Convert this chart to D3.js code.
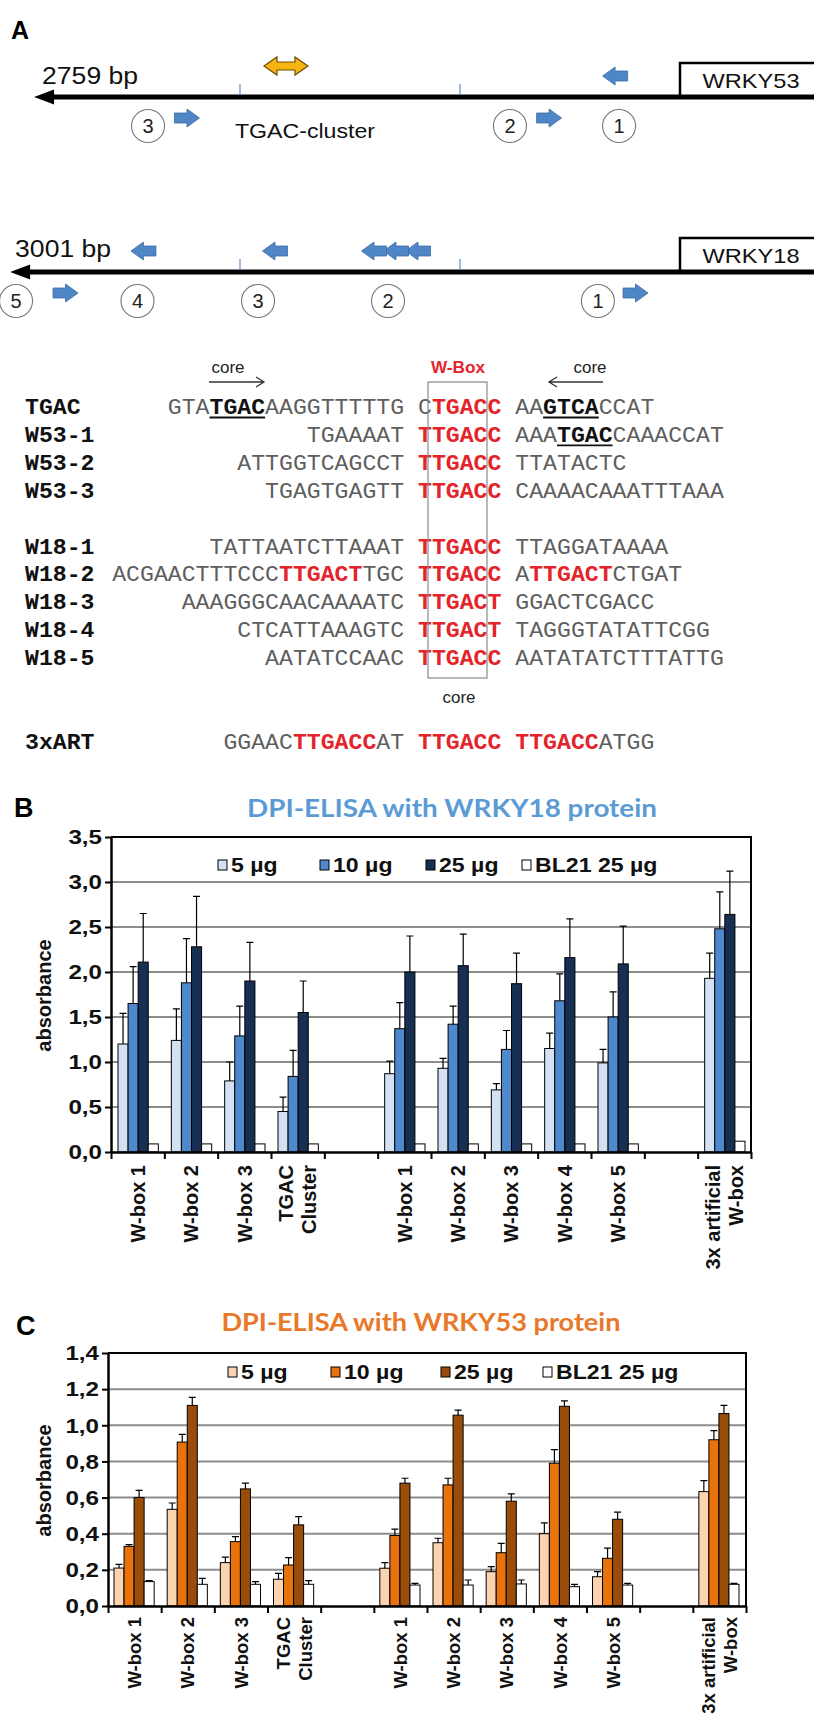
<!DOCTYPE html>
<html><head><meta charset="utf-8">
<script src="https://cdn.jsdelivr.net/npm/d3@7"></script>
<style>body{margin:0;background:#fff}svg{display:block}</style>
</head><body>
<svg id="fig" width="814" height="1716"></svg>
<script>
// ================= DATA =================
// Panel A – promoter schematics (positions in bp upstream of start)
const w53Length = "2759 bp", w18Length = "3001 bp";
const w53LineEnd = 2936, w18LineEnd = 3045;
const scaleTicksBp = [1000, 2000];
const w53ArrowsAbove = [{bp:295, dir:"L"}];
const w53ArrowsBelow = [{bp:2241, dir:"R"}, {bp:595, dir:"R"}];
const w53Circles = [{bp:2418, n:"3"}, {bp:773, n:"2"}, {bp:277, n:"1"}];
const w53TgacCluster = 1791;
const w18ArrowsAbove = [{bp:2439, dir:"L"}, {bp:1841, dir:"L"}, {bp:1191, dir:"L"}, {bp:1291, dir:"L"}, {bp:1391, dir:"L"}];
const w18ArrowsBelow = [{bp:2793, dir:"R"}, {bp:202, dir:"R"}];
const w18Circles = [{bp:3018, n:"5"}, {bp:2466, n:"4"}, {bp:1918, n:"3"}, {bp:1327, n:"2"}, {bp:373, n:"1"}];

// Sequences: {..} = red W-box, [..] = bold underlined core
const seqLabels = ["TGAC","W53-1","W53-2","W53-3","W18-1","W18-2","W18-3","W18-4","W18-5","3xART"];
const seqSlots  = [0,1,2,3,5,6,7,8,9,12];
const seqLeft  = ["GTA[TGAC]AAGGTTTTTG","TGAAAAT","ATTGGTCAGCCT","TGAGTGAGTT","TATTAATCTTAAAT","ACGAACTTTCCC{TTGACT}TGC","AAAGGGCAACAAAATC","CTCATTAAAGTC","AATATCCAAC","GGAAC{TTGACC}AT"];
const seqCore  = ["C{TGACC}","{TTGACC}","{TTGACC}","{TTGACC}","{TTGACC}","{TTGACC}","{TTGACT}","{TTGACT}","{TTGACC}","{TTGACC}"];
const seqRight = ["AA[GTCA]CCAT","AAA[TGAC]CAAACCAT","TTATACTC","CAAAACAAATTTAAA","TTAGGATAAAA","A{TTGACT}CTGAT","GGACTCGACC","TAGGGTATATTCGG","AATATATCTTTATTG","{TTGACC}ATGG"];

// Panels B and C – DPI-ELISA
const categories = [["W-box 1"],["W-box 2"],["W-box 3"],["TGAC","Cluster"],null,["W-box 1"],["W-box 2"],["W-box 3"],["W-box 4"],["W-box 5"],null,["3x artificial","W-box"]];
const seriesNames = ["5 µg","10 µg","25 µg","BL21 25 µg"];
const yTicksB = [0,0.5,1.0,1.5,2.0,2.5,3.0,3.5];
const yTicksC = [0,0.2,0.4,0.6,0.8,1.0,1.2,1.4];

const b5    = [1.20,1.24,0.79,0.45,null,0.87,0.93,0.69,1.15,0.99,null,1.93];
const b5Err = [0.34,0.35,0.21,0.16,null,0.14,0.11,0.07,0.17,0.15,null,0.28];
const b10    = [1.65,1.88,1.29,0.84,null,1.37,1.42,1.14,1.68,1.50,null,2.48];
const b10Err = [0.41,0.49,0.33,0.29,null,0.29,0.20,0.21,0.30,0.28,null,0.41];
const b25    = [2.11,2.28,1.90,1.55,null,2.00,2.07,1.87,2.16,2.09,null,2.64];
const b25Err = [0.54,0.56,0.43,0.35,null,0.40,0.35,0.34,0.43,0.42,null,0.48];
const bBL    = [0.09,0.09,0.09,0.09,null,0.09,0.09,0.09,0.09,0.09,null,0.12];
const bBLErr = [null,null,null,null,null,null,null,null,null,null,null,null];

const c5    = [0.21,0.535,0.24,0.148,null,0.209,0.35,0.19,0.40,0.162,null,0.633];
const c5Err = [0.02,0.035,0.03,0.032,null,0.031,0.025,0.028,0.06,0.028,null,0.061];
const c10    = [0.33,0.907,0.356,0.227,null,0.39,0.67,0.295,0.79,0.264,null,0.92];
const c10Err = [0.01,0.043,0.028,0.041,null,0.035,0.037,0.052,0.075,0.056,null,0.05];
const c25    = [0.60,1.11,0.648,0.449,null,0.68,1.056,0.58,1.105,0.48,null,1.065];
const c25Err = [0.04,0.045,0.032,0.046,null,0.027,0.028,0.04,0.03,0.04,null,0.045];
const cBL    = [0.135,0.12,0.12,0.12,null,0.116,0.116,0.122,0.107,0.116,null,0.12];
const cBLErr = [0.005,0.033,0.015,0.02,null,0.009,0.028,0.022,0.013,0.009,null,0.005];

// ================= DRAWING =================
const svg = d3.select("#fig");
const SANS = "'Liberation Sans', Arial, sans-serif";
const MONO = "'Liberation Mono', 'Courier New', monospace";

function stretch(sel, f){ sel.each(function(){ const w=this.getComputedTextLength(); d3.select(this).attr("textLength", w*f).attr("lengthAdjust","spacingAndGlyphs"); }); return sel; }
function fit(sel, w){ return sel.attr("textLength", w).attr("lengthAdjust","spacingAndGlyphs"); }

// ---------- Panel A ----------
svg.append("text").attr("x",11).attr("y",39).text("A").attr("font-family",SANS).attr("font-weight","bold").attr("font-size",25);

const bpX = d3.scaleLinear().domain([0,1000]).range([680,460]);

function blockArrow(g, cx, cy, dir, w, h, bh, fill, stroke){
  const s = dir==="L" ? -1 : 1, hw=w/2, hl=w/2;
  const tip = cx + s*hw, base = cx + s*(hw-hl), tail = cx - s*hw;
  const p = `M${tip},${cy}L${base},${cy-h/2}L${base},${cy-bh/2}L${tail},${cy-bh/2}L${tail},${cy+bh/2}L${base},${cy+bh/2}L${base},${cy+h/2}Z`;
  g.append("path").attr("d",p).attr("fill",fill).attr("stroke",stroke).attr("stroke-width",0.8);
}

function promoter(y, lenLabel, lineEnd, gene, above, below, circles, labelDy, labelDx){
  const g = svg.append("g");
  const tipX = bpX(lineEnd);
  g.append("line").attr("x1",tipX+16).attr("x2",814).attr("y1",y).attr("y2",y).attr("stroke","#000").attr("stroke-width",5);
  g.append("path").attr("d",`M${tipX},${y}L${tipX+20},${y-7.5}L${tipX+20},${y+7.5}Z`).attr("fill","#000");
  g.append("path").attr("d",`M${bpX(0)},${y}V${y-34}H${830}`).attr("fill","none").attr("stroke","#000").attr("stroke-width",2.5);
  fit(g.append("text").attr("x",751).attr("y",y-9).attr("text-anchor","middle").text(gene)
    .attr("font-family",SANS).attr("font-size",21).attr("fill","#111"),97);
  fit(g.append("text").attr("x",tipX+labelDx).attr("y",y+labelDy).text(lenLabel)
    .attr("font-family",SANS).attr("font-size",23).attr("fill","#111"),96);
  scaleTicksBp.forEach(t=>g.append("line").attr("x1",bpX(t)).attr("x2",bpX(t)).attr("y1",y-13).attr("y2",y-2).attr("stroke","#5b8ed0").attr("stroke-width",1.2));
  above.forEach(a=>blockArrow(g,bpX(a.bp),y-21,a.dir,25,18,10,"#4f86c6","#3a6aa3"));
  below.forEach(a=>blockArrow(g,bpX(a.bp),y+21,a.dir,25,18,10,"#4f86c6","#3a6aa3"));
  circles.forEach(c=>{
    g.append("circle").attr("cx",bpX(c.bp)).attr("cy",y+29).attr("r",16.5).attr("fill","#fff").attr("stroke","#777").attr("stroke-width",1.1);
    g.append("text").attr("x",bpX(c.bp)).attr("y",y+36).attr("text-anchor","middle").text(c.n)
      .attr("font-family",SANS).attr("font-size",20).attr("fill","#222");
  });
  return g;
}
const g53 = promoter(97, w53Length, w53LineEnd, "WRKY53", w53ArrowsAbove, w53ArrowsBelow, w53Circles, -13, 8);
// orange double arrow (TGAC cluster)
(function(){
  const cx=bpX(w53TgacCluster), cy=66, hw=22, hl=13, h=18, bh=8;
  const p=`M${cx-hw},${cy}L${cx-hw+hl},${cy-h/2}L${cx-hw+hl},${cy-bh/2}L${cx+hw-hl},${cy-bh/2}L${cx+hw-hl},${cy-h/2}L${cx+hw},${cy}L${cx+hw-hl},${cy+h/2}L${cx+hw-hl},${cy+bh/2}L${cx-hw+hl},${cy+bh/2}L${cx-hw+hl},${cy+h/2}Z`;
  g53.append("path").attr("d",p).attr("fill","#f6b512").attr("stroke","#6b4e00").attr("stroke-width",1.2);
  fit(g53.append("text").attr("x",235).attr("y",138).text("TGAC-cluster").attr("font-family",SANS).attr("font-size",21).attr("fill","#111"),140);
})();
promoter(272, w18Length, w18LineEnd, "WRKY18", w18ArrowsAbove, w18ArrowsBelow, w18Circles, -15, 5);

// ---------- Sequences ----------
const cw = 13.9, col0 = 418;
const colX = c => col0 + c*cw;
const rowY = d3.scaleLinear().domain([0,1]).range([414,441.9]);
function parseSeq(s){
  const out=[]; let st="n";
  for(const ch of s){
    if(ch==="{"){st="r";continue;} if(ch==="}"){st="n";continue;}
    if(ch==="["){st="b";continue;} if(ch==="]"){st="n";continue;}
    out.push({ch,st});
  }
  return out;
}
function runs(chars){
  const r=[]; chars.forEach((c,i)=>{ if(r.length && r[r.length-1].st===c.st) r[r.length-1].txt+=c.ch; else r.push({st:c.st,txt:c.ch,start:i}); });
  return r;
}
const seqG = svg.append("g");
const styleCol = {n:"#5e5e5e", r:"#e3242b", b:"#111"};
function drawSeq(str, startCol, y){
  runs(parseSeq(str)).forEach(r=>{
    const x = colX(startCol + r.start);
    fit(seqG.append("text").attr("x",x).attr("y",y).text(r.txt)
      .attr("font-family",MONO).attr("font-size",22).attr("fill",styleCol[r.st])
      .attr("font-weight", r.st==="n" ? "normal" : "bold"), r.txt.length*cw);
    if(r.st==="b") seqG.append("line").attr("x1",x).attr("x2",x+r.txt.length*cw).attr("y1",y+3.5).attr("y2",y+3.5).attr("stroke","#111").attr("stroke-width",1.8);
  });
}
seqLabels.forEach((lab,i)=>{
  const y = rowY(seqSlots[i]);
  fit(seqG.append("text").attr("x",25).attr("y",y).text(lab).attr("font-family",MONO).attr("font-size",22).attr("font-weight","bold").attr("fill","#111"), lab.length*cw);
  const L = parseSeq(seqLeft[i]).length;
  drawSeq(seqLeft[i], -(L+1), y);
  drawSeq(seqCore[i], 0, y);
  drawSeq(seqRight[i], 7, y);
});
// W-box frame and annotations
seqG.append("rect").attr("x",428).attr("y",382).attr("width",59).attr("height",296).attr("fill","none").attr("stroke","#8a8a8a").attr("stroke-width",1.2);
fit(seqG.append("text").attr("x",458).attr("y",373).attr("text-anchor","middle").text("W-Box").attr("font-family",SANS).attr("font-weight","bold").attr("font-size",16).attr("fill","#e3242b"),54);
[[228,373],[590,373],[459,703]].forEach(p=>fit(seqG.append("text").attr("x",p[0]).attr("y",p[1]).attr("text-anchor","middle").text("core").attr("font-family",SANS).attr("font-size",16).attr("fill","#222"),33));
seqG.append("path").attr("d","M209,382H264M256,377L264,382L256,387").attr("fill","none").attr("stroke","#333").attr("stroke-width",1.3);
seqG.append("path").attr("d","M603,382H549M557,377L549,382L557,387").attr("fill","none").attr("stroke","#333").attr("stroke-width",1.3);

// ---------- Bar charts ----------
function drawChart(o){
  const g = svg.append("g");
  const x = d3.scaleBand().domain(d3.range(categories.length)).range([o.x0,o.x1]);
  const xs = d3.scaleBand().domain(d3.range(seriesNames.length)).range([o.inL, x.bandwidth()-o.inR]);
  const xb = d3.scaleLinear().domain([0,categories.length]).range([o.x0,o.x1]);
  const y = d3.scaleLinear().domain([0,o.yMax]).range([o.yBottom,o.yTop]);

  g.append("text").attr("x",o.letterX).attr("y",o.letterY).text(o.letter).attr("font-family",SANS).attr("font-weight","bold").attr("font-size",27);
  fit(g.append("text").attr("x",o.titleX).attr("y",o.titleY).attr("text-anchor","middle").text(o.title)
    .attr("font-family","Lato, 'Open Sans', sans-serif").attr("font-weight","bold").attr("font-size",25).attr("fill",o.titleColor), o.titleW);

  g.selectAll(".grid").data(o.ticks.filter(t=>t>0 && t<o.yMax)).join("line")
    .attr("x1",o.x0).attr("x2",o.x1).attr("y1",d=>y(d)).attr("y2",d=>y(d)).attr("stroke","#8d8d8d").attr("stroke-width",2);
  g.append("path").attr("d",`M${o.x0},${y(o.yMax)}H${o.x1}V${y(0)}`).attr("fill","none").attr("stroke","#000").attr("stroke-width",2);

  o.values.forEach((vals,si)=>{
    const data = vals.map((v,i)=>({v,i,e:o.errs[si][i]})).filter(d=>d.v!=null);
    g.append("g").selectAll("rect").data(data).join("rect")
      .attr("x",d=>x(d.i)+xs(si)).attr("width",xs.bandwidth())
      .attr("y",d=>y(d.v)).attr("height",d=>y(0)-y(d.v))
      .attr("fill",o.colors[si]).attr("stroke","#000").attr("stroke-width",1);
  });
  o.values.forEach((vals,si)=>{
    const data = vals.map((v,i)=>({v,i,e:o.errs[si][i]})).filter(d=>d.v!=null && d.e!=null);
    const cx = d=>x(d.i)+xs(si)+xs.bandwidth()/2;
    g.append("g").selectAll("path").data(data).join("path")
      .attr("d",d=>`M${cx(d)},${y(d.v)}V${y(d.v+d.e)}M${cx(d)-3.5},${y(d.v+d.e)}H${cx(d)+3.5}`)
      .attr("fill","none").attr("stroke","#000").attr("stroke-width",1.2);
  });

  const ya = g.append("g").attr("transform",`translate(${o.x0},0)`)
    .call(d3.axisLeft(y).tickValues(o.ticks).tickSize(6).tickSizeOuter(0).tickPadding(3).tickFormat(d=>d.toFixed(1).replace(".",",")));
  ya.select(".domain").attr("stroke","#000").attr("stroke-width",2.5);
  ya.selectAll(".tick line").attr("stroke","#000").attr("stroke-width",2);
  stretch(ya.selectAll(".tick text").attr("font-family",SANS).attr("font-weight","bold").attr("font-size",21).attr("fill","#111"),1.15);

  const xa = g.append("g").attr("transform",`translate(0,${y(0)})`)
    .call(d3.axisBottom(xb).tickValues(d3.range(categories.length+1)).tickSize(7).tickSizeOuter(0).tickFormat(""));
  xa.select(".domain").attr("stroke","#000").attr("stroke-width",2.5);
  xa.selectAll(".tick line").attr("stroke","#000").attr("stroke-width",2);

  categories.forEach((lines,i)=>{
    if(!lines) return;
    const cx = x(i)+x.bandwidth()/2;
    lines.forEach((t,k)=>{
      const off = (k-(lines.length-1)/2)*o.labelGap;
      g.append("text").attr("transform",`translate(${cx+off},${o.labelTop}) rotate(-90)`)
        .attr("text-anchor","end").attr("dy","0.36em").text(t)
        .attr("font-family",SANS).attr("font-weight","bold").attr("font-size",o.labelFont).attr("fill","#111");
    });
  });
  g.append("text").attr("transform",`translate(44,${(o.yTop+o.yBottom)/2+1}) rotate(-90)`)
    .attr("text-anchor","middle").attr("dy","0.36em").text("absorbance")
    .attr("font-family",SANS).attr("font-weight","bold").attr("font-size",20).attr("fill","#111");

  seriesNames.forEach((s,si)=>{
    g.append("rect").attr("x",o.legX[si]).attr("y",o.legY-10).attr("width",9).attr("height",10)
      .attr("fill",o.colors[si]).attr("stroke","#000").attr("stroke-width",1);
    stretch(g.append("text").attr("x",o.legX[si]+13).attr("y",o.legY+2).text(s)
      .attr("font-family",SANS).attr("font-weight","bold").attr("font-size",21).attr("fill","#111"),1.1);
  });
}

drawChart({
  letter:"B", letterX:14, letterY:817,
  title:"DPI-ELISA with WRKY18 protein", titleX:452, titleY:817, titleW:410, titleColor:"#5b9bd5",
  x0:111, x1:751, yTop:837, yBottom:1152, yMax:3.5, ticks:yTicksB, inL:7, inR:6,
  values:[b5,b10,b25,bBL], errs:[b5Err,b10Err,b25Err,bBLErr],
  colors:["#d3e1f3","#5088cc","#162f52","#ffffff"],
  legX:[218,320,426,522], legY:870, labelTop:1165, labelFont:20, labelGap:23
});
drawChart({
  letter:"C", letterX:16, letterY:1335,
  title:"DPI-ELISA with WRKY53 protein", titleX:421, titleY:1331, titleW:399, titleColor:"#e8782a",
  x0:108, x1:746, yTop:1353, yBottom:1606, yMax:1.4, ticks:yTicksC, inL:6, inR:7,
  values:[c5,c10,c25,cBL], errs:[c5Err,c10Err,c25Err,cBLErr],
  colors:["#fbd3b0","#e8720c","#9a4c0a","#ffffff"],
  legX:[228,331,441,543], legY:1377, labelTop:1617, labelFont:18.5, labelGap:22
});
</script>
</body></html>
